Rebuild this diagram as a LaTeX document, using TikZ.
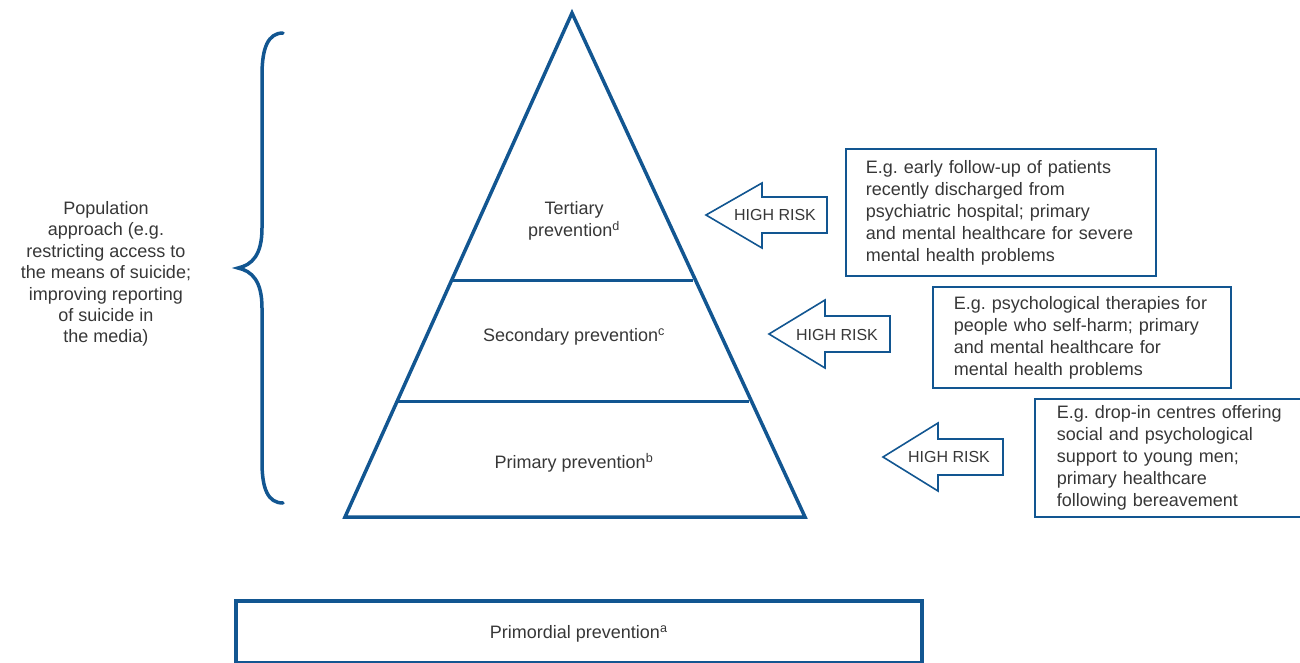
\documentclass[tikz,border=0pt]{standalone}
\usepackage{fontspec}
\setmainfont{Liberation Sans}
\definecolor{pblue}{RGB}{18,86,145}
\definecolor{ptext}{RGB}{55,55,55}
\tikzset{
  lbl/.style={text=ptext, font=\fontsize{18}{22}\selectfont, inner sep=0pt},
  risk/.style={text=ptext, font=\fontsize{16}{20}\selectfont, inner sep=0pt},
  exbox/.style={draw=pblue, line width=1.8pt, text=ptext, font=\fontsize{18}{22}\selectfont, align=left, anchor=north west, inner ysep=0pt},
  riskarrow/.style={draw=pblue, line width=1.6pt, line join=miter},
  pyr/.style={draw=pblue, line width=3.5pt, line join=miter},
  divider/.style={draw=pblue, line width=3pt},
}
\begin{document}
\begin{tikzpicture}[x=1pt,y=-1pt]
\useasboundingbox (0,0) rectangle (1300,662);
% pyramid
\coordinate (apex) at (572,13);
\coordinate (bl) at (345,517);
\coordinate (br) at (805,517);
\draw[pyr] (apex) -- (br) -- (bl) -- cycle;
\coordinate (d1l) at (452,280);
\coordinate (d1r) at (693,280);
\coordinate (d2l) at (397,401);
\coordinate (d2r) at (749,401);
\draw[divider] (d1l) -- (d1r);
\draw[divider] (d2l) -- (d2r);
\node[lbl, align=center] (tert) at (574,221) {Tertiary\\prevention\textsuperscript{d}};
\node[lbl] (sec) at (574,337) {Secondary prevention\textsuperscript{c}};
\node[lbl] (prim) at (574,463) {Primary prevention\textsuperscript{b}};
% brace
\draw[draw=pblue, line width=3.5pt, line cap=round]
  (283,33) .. controls (268,33) and (262,48) .. (262,75) -- (262,228)
  .. controls (262,255) and (252,265) .. (238,268)
  .. controls (252,271) and (262,281) .. (262,308) -- (262,462)
  .. controls (262,489) and (268,503) .. (283,503);
\node[lbl, align=center, font=\fontsize{18}{21.4}\selectfont] (pop) at (106,274)
  {Population\\approach (e.g.\\restricting access to\\the means of suicide;\\improving reporting\\of suicide in\\the media)};
% arrows
\draw[riskarrow] (706,215) -- (762,183) -- (762,197) -- (827,197) -- (827,233) -- (762,233) -- (762,248) -- cycle;
\node[risk] (r1) at (775,215) {HIGH RISK};
\draw[riskarrow] (769,334) -- (825,300) -- (825,316) -- (890,316) -- (890,352) -- (825,352) -- (825,368) -- cycle;
\node[risk] (r2) at (837,335) {HIGH RISK};
\draw[riskarrow] (883,457) -- (938,423) -- (938,439) -- (1003,439) -- (1003,475) -- (938,475) -- (938,491) -- cycle;
\node[risk] (r3) at (949,457) {HIGH RISK};
% example boxes
\node[exbox, inner xsep=20pt, minimum width=310pt, minimum height=127pt, text width=270pt] (b1) at (845,148)
  {\mbox{E.g.\ early follow-up of patients}\\\mbox{recently discharged from}\\\mbox{psychiatric hospital; primary}\\\mbox{and mental healthcare for severe}\\\mbox{mental health problems}};
\node[exbox, inner xsep=21pt, minimum width=298pt, minimum height=101pt, text width=256pt] (b2) at (932,286)
  {\mbox{E.g.\ psychological therapies for}\\\mbox{people who self-harm; primary}\\\mbox{and mental healthcare for}\\\mbox{mental health problems}};
\node[exbox, inner xsep=22pt, minimum width=280pt, minimum height=118pt, text width=236pt] (b3) at (1034,398)
  {\mbox{E.g.\ drop-in centres offering}\\\mbox{social and psychological}\\\mbox{support to young men;}\\\mbox{primary healthcare}\\\mbox{following bereavement}};
% primordial
\node[draw=pblue, line width=3.5pt, anchor=north west, minimum width=686pt, minimum height=62pt, inner sep=0pt, text height=18pt, text depth=4pt, text=ptext, font=\fontsize{18}{22}\selectfont] (primo) at (234,599) {Primordial prevention\textsuperscript{a}};
\end{tikzpicture}
\end{document}
